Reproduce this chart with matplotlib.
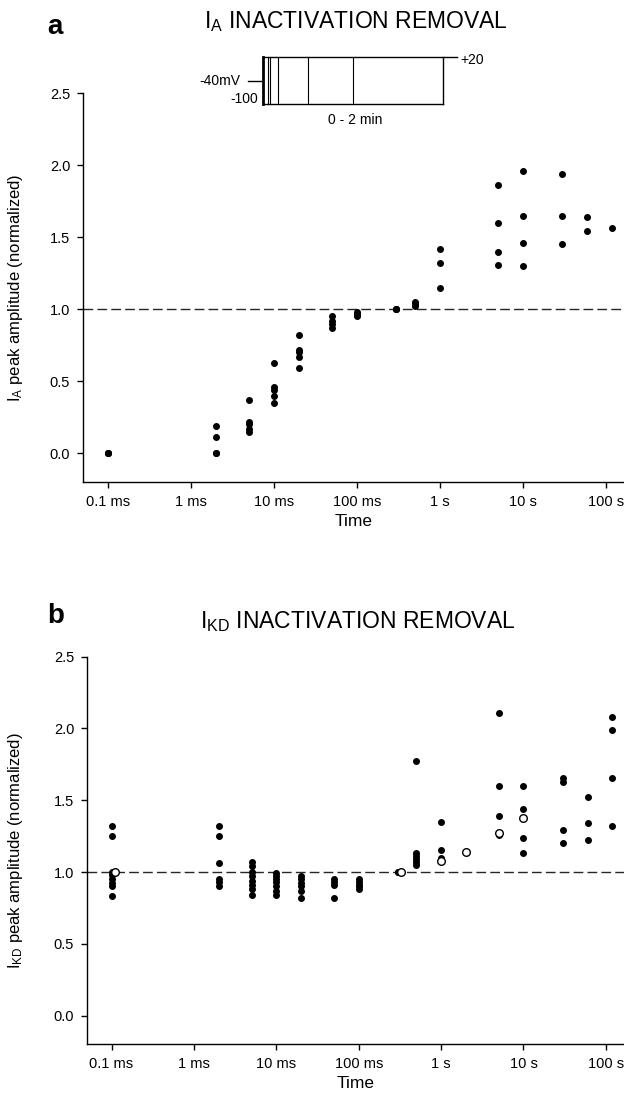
import matplotlib
matplotlib.use("Agg")
import matplotlib.pyplot as plt
from matplotlib.ticker import FixedLocator, FixedFormatter, NullLocator

plt.rcParams['font.family'] = ['Liberation Sans', 'DejaVu Sans']
plt.rcParams['mathtext.default'] = 'regular'

# pulse durations (s) and normalized peak amplitudes, one list per duration
times_a = [1e-4, 2e-3, 5e-3, 1e-2, 2e-2, 5e-2, 0.1, 0.3, 0.5, 1, 5, 10, 30, 60, 120]
ia_norm = [
    [0.0, 0.0, 0.0],
    [0.19, 0.11, 0.0, 0.0],
    [0.37, 0.22, 0.20, 0.17, 0.15],
    [0.63, 0.46, 0.44, 0.40, 0.35],
    [0.82, 0.72, 0.70, 0.67, 0.59],
    [0.95, 0.92, 0.90, 0.87],
    [0.98, 0.97, 0.96, 0.95],
    [1.0, 1.0, 1.0],
    [1.05, 1.04, 1.03, 1.02],
    [1.42, 1.32, 1.15],
    [1.86, 1.60, 1.40, 1.31],
    [1.96, 1.65, 1.46, 1.30],
    [1.94, 1.65, 1.45],
    [1.64, 1.545],
    [1.565],
]

times_b = [1e-4, 2e-3, 5e-3, 1e-2, 2e-2, 5e-2, 0.1, 0.3, 0.5, 1, 5, 10, 30, 60, 120]
ikd_norm = [
    [1.32, 1.25, 1.0, 0.98, 0.95, 0.92, 0.90, 0.83],
    [1.32, 1.25, 1.06, 0.95, 0.93, 0.90],
    [1.07, 1.04, 1.0, 0.97, 0.94, 0.91, 0.88, 0.84],
    [0.99, 0.97, 0.95, 0.93, 0.90, 0.87, 0.84],
    [0.97, 0.95, 0.92, 0.90, 0.87, 0.82],
    [0.95, 0.93, 0.91, 0.82],
    [0.95, 0.93, 0.91, 0.90, 0.88],
    [1.0, 1.0],
    [1.77, 1.13, 1.11, 1.09, 1.07, 1.05],
    [1.35, 1.15, 1.10],
    [2.11, 1.60, 1.39, 1.26],
    [1.60, 1.44, 1.235, 1.135],
    [1.655, 1.625, 1.29, 1.20],
    [1.52, 1.34, 1.22],
    [2.08, 1.99, 1.655, 1.32],
]
# open circles in panel b
open_t = [1.1e-4, 0.33, 1, 2, 5, 10]
open_v = [1.0, 1.0, 1.08, 1.14, 1.275, 1.375]

tick_t = [1e-4, 1e-3, 1e-2, 1e-1, 1, 10, 100]
tick_lab = ['0.1 ms', '1 ms', '10 ms', '100 ms', '1 s', '10 s', '100 s']
ytick_v = [0.0, 0.5, 1.0, 1.5, 2.0, 2.5]


def expand(times, groups):
    xs, ys = [], []
    for t, g in zip(times, groups):
        for v in g:
            xs.append(t)
            ys.append(v)
    return xs, ys


def style_axis(ax, ylabel, ylab_x):
    ax.set_xscale('log')
    ax.set_xlim(5.0e-5, 166)
    ax.set_ylim(-0.2, 2.5)
    ax.xaxis.set_major_locator(FixedLocator(tick_t))
    ax.xaxis.set_major_formatter(FixedFormatter(tick_lab))
    ax.xaxis.set_minor_locator(NullLocator())
    ax.set_yticks(ytick_v)
    ax.set_yticklabels(['%.1f' % v for v in ytick_v])
    for s in ['top', 'right']:
        ax.spines[s].set_visible(False)
    for s in ['left', 'bottom']:
        ax.spines[s].set_linewidth(1.0)
    ax.tick_params(direction='out', length=4, width=1, labelsize=10.5, pad=5)
    ax.axhline(1.0, ls=(0, (7, 3)), color='0.15', lw=1, zorder=1)
    ax.set_xlabel('Time', fontsize=12.5, labelpad=4)
    ax.set_ylabel(ylabel, fontsize=12)
    ax.yaxis.set_label_coords(ylab_x, 0.5)


fig = plt.figure(figsize=(6.24, 11.02), dpi=100)

ax1 = fig.add_axes([0.1325, 0.5626, 0.8675, 0.3527])
style_axis(ax1, 'I$_{A}$ peak amplitude (normalized)', (25 - 82.7) / 541.3)
xa, ya = expand(times_a, ia_norm)
ax1.plot(xa, ya, 'o', color='black', ms=4, zorder=3, clip_on=False)

ax2 = fig.add_axes([0.139, 0.0524, 0.861, 0.3517])
style_axis(ax2, 'I$_{KD}$ peak amplitude (normalized)', (25 - 86.7) / 537.3)
xb, yb = expand(times_b, ikd_norm)
ax2.plot(xb, yb, 'o', color='black', ms=4, zorder=3, clip_on=False)
ax2.plot(open_t, open_v, 'o', mfc='white', mec='black', mew=1, ms=5.5, zorder=4)

# titles and panel letters
fig.text(356 / 624, 1 - 28 / 1102, 'I$_{A}$ INACTIVATION REMOVAL', ha='center',
         va='baseline', fontsize=16.5)
fig.text(358 / 624, 1 - 628 / 1102, 'I$_{KD}$ INACTIVATION REMOVAL', ha='center',
         va='baseline', fontsize=16.5)
fig.text(47 / 624, 1 - 34 / 1102, 'a', fontsize=20, fontweight='bold', va='baseline')
fig.text(47 / 624, 1 - 623 / 1102, 'b', fontsize=20, fontweight='bold', va='baseline')

# voltage protocol schematic (in figure pixels)
sk = fig.add_axes([0, 0, 1, 1], facecolor='none')
sk.set_xlim(0, 624)
sk.set_ylim(1102, 0)
sk.axis('off')
top_y, bot_y, mid_y = 57.3, 104.3, 81
step_x = [267.5, 270, 278, 307.7, 352.7]
sk.plot([263.3, 263.3], [top_y, bot_y], color='black', lw=2)
for x in step_x:
    sk.plot([x, x], [top_y, bot_y], color='black', lw=0.8)
sk.plot([263.3, 457], [top_y, top_y], color='black', lw=1)
sk.plot([263.3, 442.7], [bot_y, bot_y], color='black', lw=1)
sk.plot([442.7, 442.7], [top_y, bot_y], color='black', lw=1)
sk.plot([248, 263.3], [mid_y, mid_y], color='black', lw=1)
sk.text(240, mid_y, '-40mV', ha='right', va='center', fontsize=10)
sk.text(258, 99, '-100', ha='right', va='center', fontsize=10)
sk.text(460, 60, '+20', ha='left', va='center', fontsize=10)
sk.text(355, 120, '0 - 2 min', ha='center', va='center', fontsize=10)

fig.savefig('out.png', dpi=100)
